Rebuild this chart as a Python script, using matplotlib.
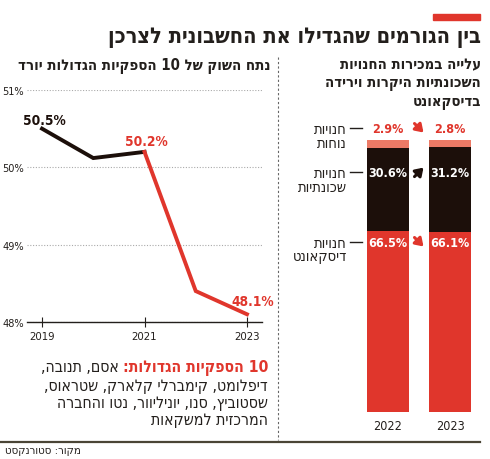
import re
import matplotlib
matplotlib.use("Agg")
import matplotlib.pyplot as plt
from matplotlib.lines import Line2D
from matplotlib.patches import Rectangle
from matplotlib.transforms import blended_transform_factory, offset_copy

# hebrew is written right-to-left, matplotlib draws left-to-right -> flip it by hand
def heb(s):
    lines = []
    for line in s.split("\n"):
        toks = re.findall(r"[0-9A-Za-z.%]+|[^0-9A-Za-z.%]+", line)
        toks = [t if re.match(r"[0-9A-Za-z.%]", t) else t[::-1] for t in toks]
        lines.append("".join(toks[::-1]))
    return "\n".join(lines)

# ---- data ----
years = [2019, 2020, 2021, 2022, 2023]
share = [50.5, 50.12, 50.2, 48.4, 48.1]          # market share of 10 biggest suppliers
labelled_years = [2019, 2021, 2023]

bar_years = ["2022", "2023"]
discount = [66.5, 66.1]
neighborhood = [30.6, 31.2]
convenience = [2.9, 2.8]
seg_names = ["חנויות\nדיסקאונט", "חנויות\nשכונתיות", "חנויות\nנוחות"]

title = "בין הגורמים שהגדילו את החשבונית לצרכן"
left_title = "נתח השוק של 10 הספקיות הגדולות יורד"
right_title = ["עלייה במכירות החנויות", "השכונתיות היקרות וירידה", "בדיסקאונט"]
note_head = "10 הספקיות הגדולות:"
note_lines = ["אסם, תנובה,", "דיפלומט, קימברלי קלארק, שטראוס,",
              "שסטוביץ, סנו, יוניליוור, נטו והחברה", "המרכזית למשקאות"]
source = "מקור: סטורנקסט"

RED = "#e0362c"
SALMON = "#ec7a66"
DARK = "#1c0f0a"
TXT = "#231f1c"
FONT = ["DejaVu Sans"]
plt.rcParams["font.family"] = FONT
plt.rcParams["font.stretch"] = "condensed"

W, H = 490, 460
fig = plt.figure(figsize=(W / 100, H / 100), dpi=100)
fig.patch.set_facecolor("white")

def fx(px):
    return px / W

def fy(py):
    return 1 - py / H

def txt(x, y, s, size, bold=False, color=TXT, ha="right", **kw):
    return fig.text(fx(x), fy(y), s, ha=ha, va="center", fontsize=size,
                    fontweight="bold" if bold else "normal", color=color,
                    stretch="condensed", **kw)

# header
fig.add_artist(Rectangle((fx(433), fy(21)), fx(47), 6 / H, color=RED, transform=fig.transFigure))
txt(481, 38, heb(title), 15.6, bold=True)

# ---- left: line chart ----
ax = fig.add_axes([fx(27), fy(323), fx(235), 232 / H])
split = years.index(2021)
ax.plot(years[:split + 1], share[:split + 1], color=DARK, lw=2.8, solid_joinstyle="miter")
ax.plot(years[split:], share[split:], color=RED, lw=2.8, solid_joinstyle="miter")
ax.set_xlim(2018.707, 2023.293)
ax.set_ylim(48, 51)
ax.set_yticks([48, 49, 50, 51])
ax.set_yticklabels(["48%", "49%", "50%", "51%"])
ax.set_xticks(labelled_years)
ax.tick_params(axis="y", length=0, pad=2, labelsize=7.8, labelcolor=TXT)
ax.tick_params(axis="x", direction="inout", length=7, width=0.8, color=TXT,
               pad=3, labelsize=8.2, labelcolor=TXT)
for lab in ax.get_xticklabels() + ax.get_yticklabels():
    lab.set_stretch("condensed")
ax.grid(axis="y", color="#aaaaaa", lw=0.8, ls=(0, (1, 1.5)))
ax.set_axisbelow(True)
for s in ["top", "right", "left"]:
    ax.spines[s].set_visible(False)
ax.spines["bottom"].set_color(TXT)
ax.spines["bottom"].set_linewidth(1)

for yr, col, off in [(2019, DARK, (1.5, 6.5)), (2021, RED, (1.5, 8)), (2023, RED, (4.5, 9.5))]:
    v = share[years.index(yr)]
    ax.annotate(f"{v:.1f}%", (yr, v), xytext=off, textcoords="offset points",
                ha="center", va="center", fontsize=9.8, fontweight="bold",
                color=col, stretch="condensed")

txt(270, 66, heb(left_title), 10.7, bold=True)

# note under the line chart, first line in two colours
head = txt(268, 368, heb(note_head), 11.3, bold=True, color=RED)
ax.annotate(heb(note_lines[0]), xy=(0, 0.5), xycoords=head, xytext=(-3, 0),
            textcoords="offset points", ha="right", va="center", fontsize=11.3,
            color=TXT, stretch="condensed")
for i, ln in enumerate(note_lines[1:]):
    txt(268, 386 + 17.5 * i, heb(ln), 11.3)

# separators
fig.add_artist(Line2D([fx(278), fx(278)], [fy(58), fy(441)], color="#666666", lw=0.8,
                      ls=(0, (2, 2)), transform=fig.transFigure))
fig.add_artist(Line2D([0, fx(480)], [fy(443), fy(443)], color="#4a4536", lw=1.6,
                      transform=fig.transFigure))
txt(5, 451, heb(source), 8.2, ha="left")

# ---- right: stacked bars ----
for i, ln in enumerate(right_title):
    txt(481, 65 + 18.5 * i, heb(ln), 10.6, bold=True)

bx = fig.add_axes([fx(355), fy(413), fx(130), 272 / H])
xs = range(len(bar_years))
bw = 42 / 62
bx.bar(xs, discount, width=bw, color=RED)
bx.bar(xs, neighborhood, width=bw, bottom=discount, color=DARK)
tops = [d + n for d, n in zip(discount, neighborhood)]
bx.bar(xs, convenience, width=bw, bottom=tops, color=SALMON)
bx.set_xlim(-33 / 62, -33 / 62 + 130 / 62)
bx.set_ylim(0, 100)
bx.axis("off")

for x, yr in zip(xs, bar_years):
    bx.text(x, -4.8, yr, ha="center", va="center", fontsize=9, color=TXT,
            stretch="condensed")

label_y = [62.5, 88.2, 104.4]              # where the value labels sit (axis units)
series = [discount, neighborhood, convenience]
lab_col = ["white", "white", RED]
arrow_col = [RED, DARK, RED]
trans = blended_transform_factory(fig.transFigure, bx.transData)
for k, vals in enumerate(series):
    y = label_y[k]
    for x, v in zip(xs, vals):
        bx.text(x, y, f"{v:.1f}%", ha="center", va="center", fontsize=9,
                fontweight="bold", color=lab_col[k], stretch="condensed")
    up = vals[1] > vals[0]
    dx, dy = 4.5 / 62, 4.5 / 2.72
    sgn = 1 if up else -1
    bx.annotate("", xy=(0.5 + dx, y + sgn * dy), xytext=(0.5 - dx, y - sgn * dy),
                arrowprops=dict(arrowstyle="-|>,head_width=0.3,head_length=0.45",
                                lw=2.2, color=arrow_col[k], shrinkA=0, shrinkB=0),
                annotation_clip=False)
    first, second = seg_names[k].split("\n")
    bx.text(fx(347), y, heb(first), transform=trans, ha="right", va="center",
            fontsize=10.5, color=TXT, stretch="condensed")
    bx.text(fx(347), y, heb(second), ha="right", va="center", fontsize=10.5, color=TXT,
            stretch="condensed",
            transform=offset_copy(trans, fig=fig, y=-14, units="dots"))
    bx.add_line(Line2D([fx(350), fx(362)], [y, y], color=TXT, lw=1, transform=trans,
                       clip_on=False))

fig.savefig("out.png", dpi=100)
